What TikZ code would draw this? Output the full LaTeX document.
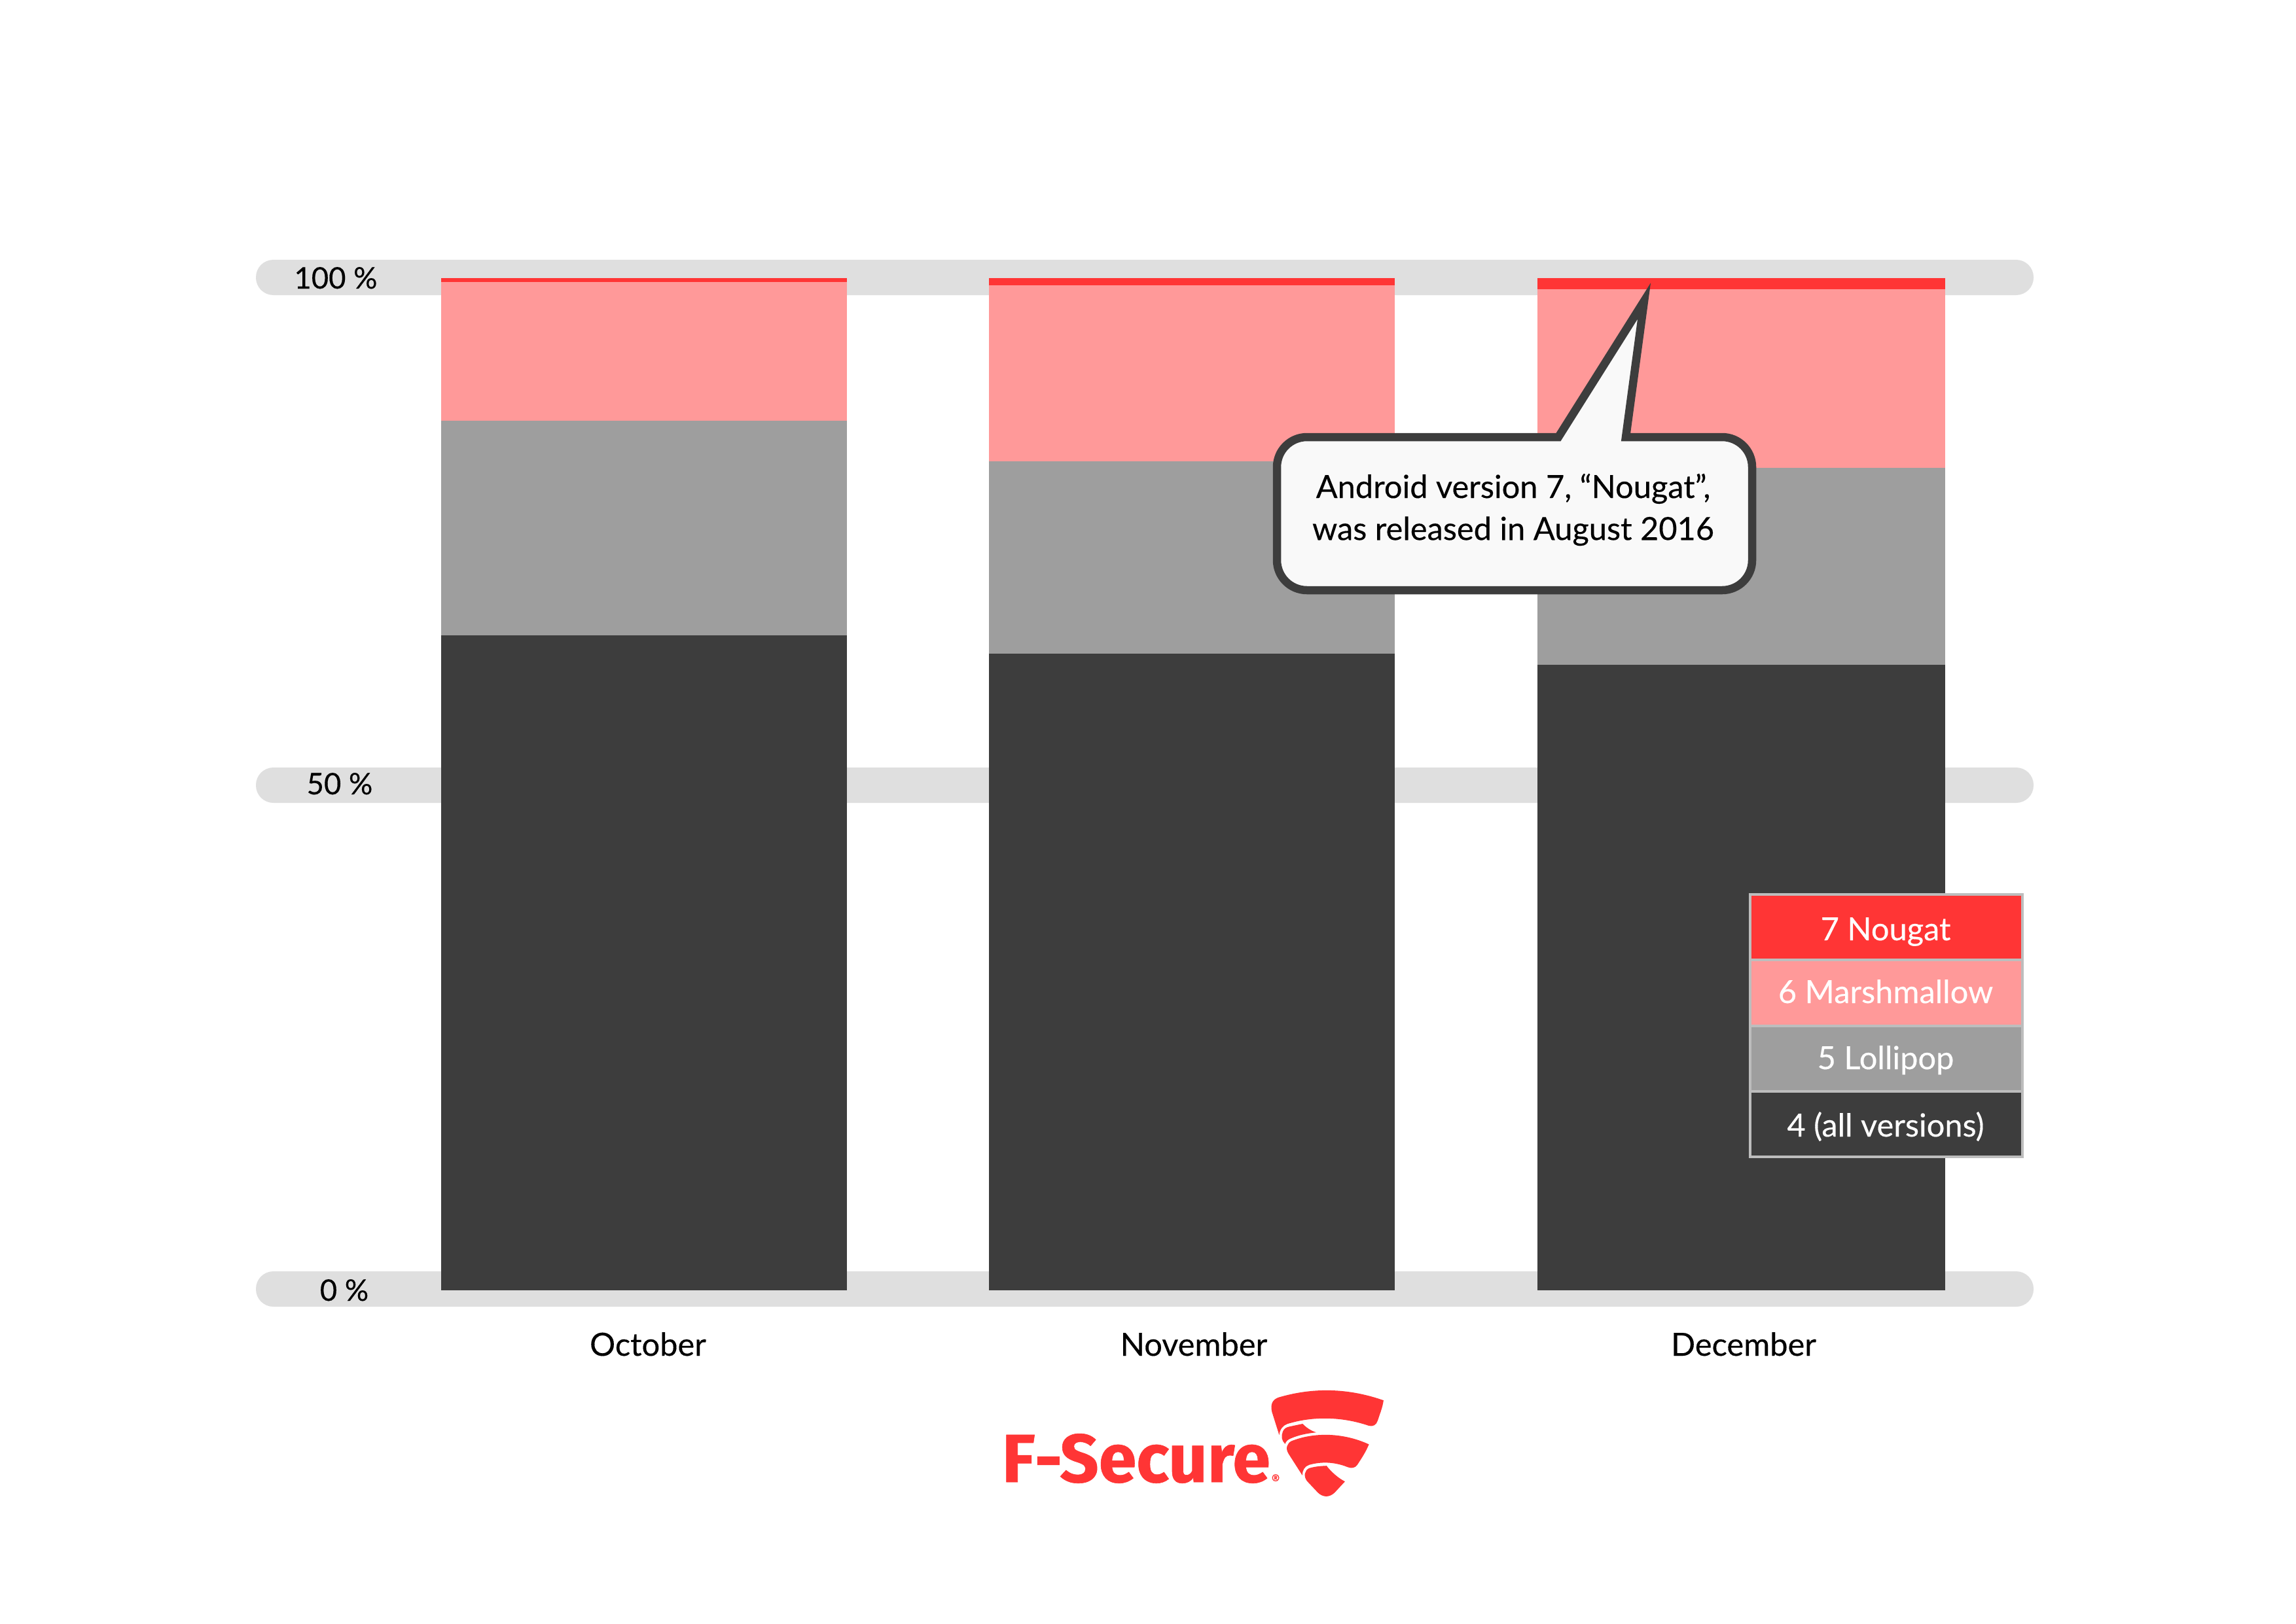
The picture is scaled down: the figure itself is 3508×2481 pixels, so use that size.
\documentclass[tikz,border=0pt]{standalone}
\usepackage{fontspec}
\setmainfont[FakeBold=0.25]{Lato}
\newfontfamily\logofont[FakeBold=0.6]{Fira Sans}
\definecolor{cred}{HTML}{FF3535}
\definecolor{cpink}{HTML}{FF9999}
\definecolor{cgray}{HTML}{9E9E9E}
\definecolor{cdark}{HTML}{3D3D3D}
\definecolor{cband}{HTML}{DFDFDF}
\definecolor{cborder}{HTML}{BDBDBD}
\definecolor{cbubble}{HTML}{F9F9F9}
\tikzset{
  lab/.style={inner sep=0pt,font=\fontsize{11.7pt}{15.4pt}\selectfont,anchor=base},
  axlab/.style={lab,font=\fontsize{10.9pt}{15.4pt}\selectfont},
  leglab/.style={lab,text=white},
  band/.style={fill=cband,rounded corners=6.4pt},
  legcell/.style={draw=cborder,line width=0.96pt},
  bubble/.style={draw=cdark,fill=cbubble,line width=3pt,miter limit=10},
  shield/.style={fill=cred}
}
\newcommand{\barcol}[6]{% x1 x2 y-red y-pink y-gray y-dark
  \fill[cdark] (#1,#6) rectangle (#2,1972);
  \fill[cgray] (#1,#5) rectangle (#2,#6);
  \fill[cpink] (#1,#4) rectangle (#2,#5);
  \fill[cred]  (#1,#3) rectangle (#2,#4);
}
\begin{document}
\begin{tikzpicture}[x=0.24pt,y=-0.24pt]
\useasboundingbox (0,0) rectangle (3508,2481);
\fill[white] (0,0) rectangle (3508,2481);
% bands
\fill[band] (391,397) rectangle (3107,451);
\fill[band] (391,1173) rectangle (3107,1227);
\fill[band] (391,1943) rectangle (3107,1997);
% axis labels
\node[axlab] (l100) at (513,441) {100 \%};
\node[axlab] (l50) at (519,1214) {50 \%};
\node[axlab] (l0) at (526,1988) {0 \%};
% bars
\barcol{674}{1294}{425}{431}{643}{971}
\barcol{1511}{2131}{425}{436}{705}{999}
\barcol{2349}{2972}{425}{442}{715}{1016}
% month labels
\node[lab] (oct) at (990,2072) {October};
\node[lab] (nov) at (1824,2072) {November};
\node[lab] (dec) at (2664,2072) {December};
% callout
\draw[bubble] (2484,668) [rounded corners=11pt] -- (2677,668) -- (2677,902) -- (1951,902) -- (1951,668) [sharp corners] -- (2381,668) -- (2512,460) -- cycle;
\node[lab,anchor=center,align=center] (note) at (2312,779) {Android version 7, “Nougat”,\\was released in August 2016};
% legend
\fill[cred] (2674,1367) rectangle (3090,1467);
\fill[cpink] (2674,1467) rectangle (3090,1568);
\fill[cgray] (2674,1568) rectangle (3090,1668);
\fill[cdark] (2674,1668) rectangle (3090,1768);
\draw[legcell] (2674,1367) rectangle (3090,1768);
\draw[legcell] (2672,1467) -- (3092,1467);
\draw[legcell] (2672,1568) -- (3092,1568);
\draw[legcell] (2672,1668) -- (3092,1668);
\node[leglab] (k7) at (2881,1437) {7 Nougat};
\node[leglab] (k6) at (2881,1533) {6 Marshmallow};
\node[leglab] (k5) at (2881,1634) {5 Lollipop};
\node[leglab] (k4) at (2881,1737) {4 (all versions)};
% logo
\node[inner sep=0pt,anchor=base west,text=cred,font=\fontsize{25pt}{27pt}\logofont\bfseries] (logo) at (1530,2265) {F-Secure};
\node[inner sep=0pt,text=cred,font=\fontsize{5pt}{6pt}\logofont] (reg) at (1949,2261) {®};
\begin{scope}[shift={(1500,2080)},x=0.10714pt,y=-0.0811pt]
\fill[shield] (1015,165) .. controls (1130,120) and (1250,120) .. (1375,178)
  .. controls (1372,210) and (1362,240) .. (1355,270)
  .. controls (1350,290) and (1338,298) .. (1325,293)
  .. controls (1230,250) and (1130,250) .. (1045,285)
  .. controls (1030,292) and (1020,310) .. (1018,335)
  -- (993,230) .. controls (987,195) and (995,175) .. (1015,165) -- cycle;
\fill[shield] (1098,284) .. controls (1110,300) and (1125,315) .. (1145,323)
  .. controls (1110,328) and (1085,335) .. (1058,350)
  .. controls (1048,355) and (1042,362) .. (1038,375)
  .. controls (1026,360) and (1024,340) .. (1030,320)
  .. controls (1034,306) and (1042,300) .. (1052,297) -- cycle;
\fill[shield] (1060,362) .. controls (1140,320) and (1240,325) .. (1325,377)
  .. controls (1315,410) and (1300,440) .. (1285,470)
  .. controls (1278,484) and (1265,487) .. (1252,480)
  .. controls (1205,455) and (1160,455) .. (1120,470)
  .. controls (1105,476) and (1097,495) .. (1097,517)
  -- (1050,420) .. controls (1038,395) and (1045,372) .. (1060,362) -- cycle;
\fill[shield] (1180,474) .. controls (1195,500) and (1220,530) .. (1243,545)
  -- (1208,595) .. controls (1190,618) and (1168,618) .. (1150,595)
  -- (1113,543) .. controls (1100,520) and (1105,495) .. (1120,485)
  .. controls (1140,477) and (1160,475) .. (1180,474) -- cycle;
\end{scope}
\end{tikzpicture}
\end{document}
